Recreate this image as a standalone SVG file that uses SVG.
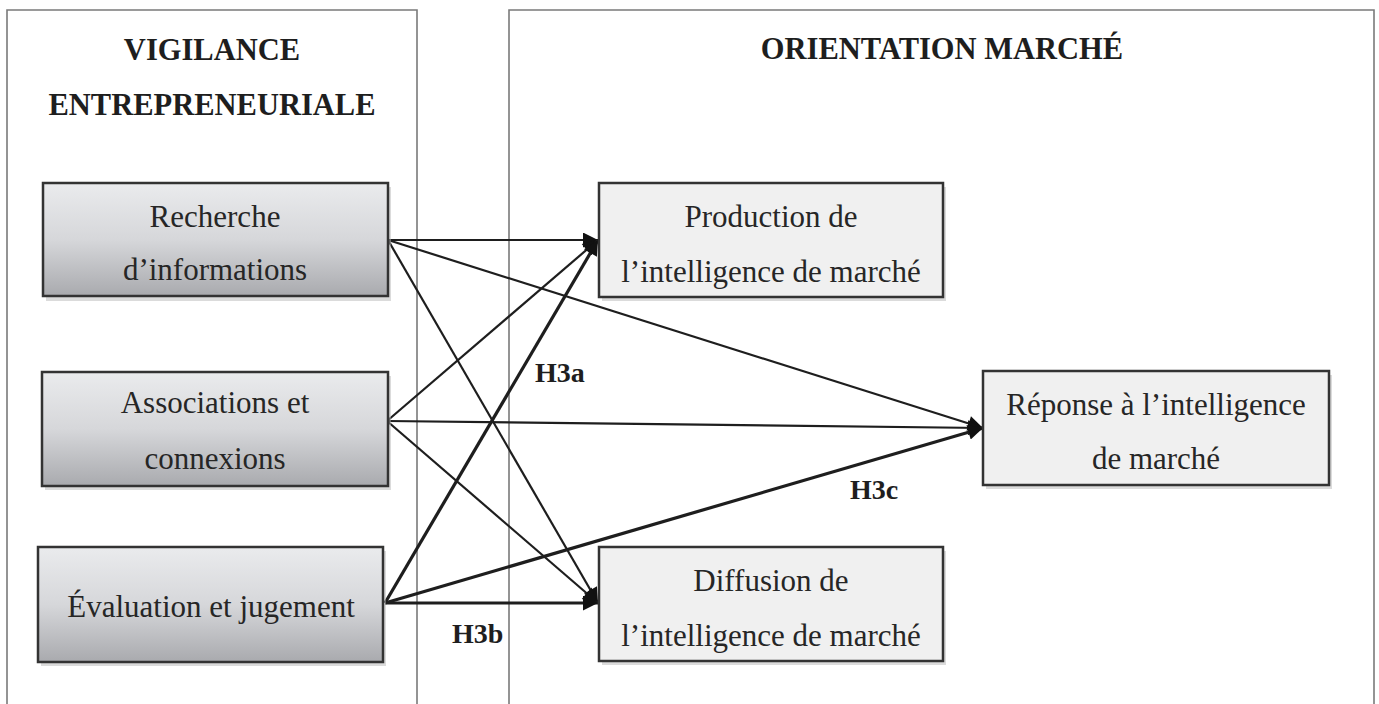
<svg xmlns="http://www.w3.org/2000/svg" width="1379" height="704" viewBox="0 0 1379 704">
<style>
.panel{fill:#ffffff;stroke:#7a7a7a;stroke-width:1.6}
.title{font-family:"Liberation Serif","Times New Roman",serif;font-weight:bold;font-size:30.5px;fill:#1e1e1e;text-anchor:middle}
.ntext{font-family:"Liberation Serif","Times New Roman",serif;font-size:31px;fill:#262626;text-anchor:middle}
.lab{font-family:"Liberation Serif","Times New Roman",serif;font-weight:bold;font-size:28px;fill:#1e1e1e}
.lnode{fill:url(#gl);stroke:#333;stroke-width:2.5}
.rnode{fill:#f0f0f0;stroke:#333;stroke-width:2.5}
.shadow{fill:#b8b8b8;opacity:0.5}
.c{fill:none;stroke:#1e1e1e;stroke-width:2.2}
.ct{fill:none;stroke:#1e1e1e;stroke-width:3.2}
</style>
<defs>
<linearGradient id="gl" x1="0" y1="0" x2="0" y2="1">
<stop offset="0" stop-color="#eaebed"/>
<stop offset="0.5" stop-color="#d6d7da"/>
<stop offset="1" stop-color="#a9aaae"/>
</linearGradient>
<marker id="ah" viewBox="0 0 10 10" refX="10" refY="5" markerWidth="19" markerHeight="15" markerUnits="userSpaceOnUse" orient="auto">
<path d="M0,0 L10,5 L0,10 Z" fill="#111"/>
</marker>
</defs>
<rect width="1379" height="704" fill="#ffffff"/>
<g id="panel-vigilance">
<path class="panel" d="M7,710 L7,10 L417,10 L417,710"/>
<text class="title" x="212" y="60">VIGILANCE</text>
<text class="title" x="212" y="115">ENTREPRENEURIALE</text>
</g>
<g id="panel-orientation">
<path class="panel" d="M509,710 L509,10 L1374,10 L1374,710"/>
<text class="title" x="942" y="59">ORIENTATION MARCHÉ</text>
</g>
<g id="connectors">
<line class="c" x1="388" y1="240" x2="598" y2="240" marker-end="url(#ah)"/>
<line class="c" x1="388" y1="240" x2="983" y2="428" marker-end="url(#ah)"/>
<line class="c" x1="388" y1="240" x2="598" y2="603" marker-end="url(#ah)"/>
<line class="c" x1="387" y1="421" x2="598" y2="240" marker-end="url(#ah)"/>
<line class="c" x1="387" y1="421" x2="983" y2="428" marker-end="url(#ah)"/>
<line class="c" x1="387" y1="421" x2="598" y2="603" marker-end="url(#ah)"/>
<line class="ct" x1="385" y1="603" x2="598" y2="240" marker-end="url(#ah)"/>
<line class="ct" x1="385" y1="603" x2="983" y2="428" marker-end="url(#ah)"/>
<line class="ct" x1="385" y1="603" x2="598" y2="603" marker-end="url(#ah)"/>
<text class="lab" x="535" y="382">H3a</text>
<text class="lab" x="452" y="643">H3b</text>
<text class="lab" x="850" y="499">H3c</text>
</g>
<g id="node-recherche">
<rect class="shadow" x="46" y="187" width="345" height="114"/>
<rect class="lnode" x="43" y="183" width="345" height="113"/>
<text class="ntext" x="215" y="227">Recherche</text>
<text class="ntext" x="215" y="280">d’informations</text>
</g>
<g id="node-associations">
<rect class="shadow" x="45" y="376" width="346" height="114"/>
<rect class="lnode" x="42" y="372" width="346" height="114"/>
<text class="ntext" x="215" y="413">Associations et</text>
<text class="ntext" x="215" y="469">connexions</text>
</g>
<g id="node-evaluation">
<rect class="shadow" x="41" y="551" width="345" height="115"/>
<rect class="lnode" x="38" y="547" width="345" height="115"/>
<text class="ntext" x="211" y="617">Évaluation  et jugement</text>
</g>
<g id="node-production">
<rect class="shadow" x="602" y="187" width="344" height="114"/>
<rect class="rnode" x="599" y="183" width="344" height="114"/>
<text class="ntext" x="771" y="227">Production de</text>
<text class="ntext" x="771" y="282">l’intelligence  de marché</text>
</g>
<g id="node-reponse">
<rect class="shadow" x="986" y="375" width="346" height="114"/>
<rect class="rnode" x="983" y="371" width="346" height="114"/>
<text class="ntext" x="1156" y="415">Réponse à l’intelligence</text>
<text class="ntext" x="1156" y="469">de marché</text>
</g>
<g id="node-diffusion">
<rect class="shadow" x="602" y="551" width="344" height="114"/>
<rect class="rnode" x="599" y="547" width="344" height="114"/>
<text class="ntext" x="771" y="591">Diffusion de</text>
<text class="ntext" x="771" y="646">l’intelligence  de marché</text>
</g>
</svg>
